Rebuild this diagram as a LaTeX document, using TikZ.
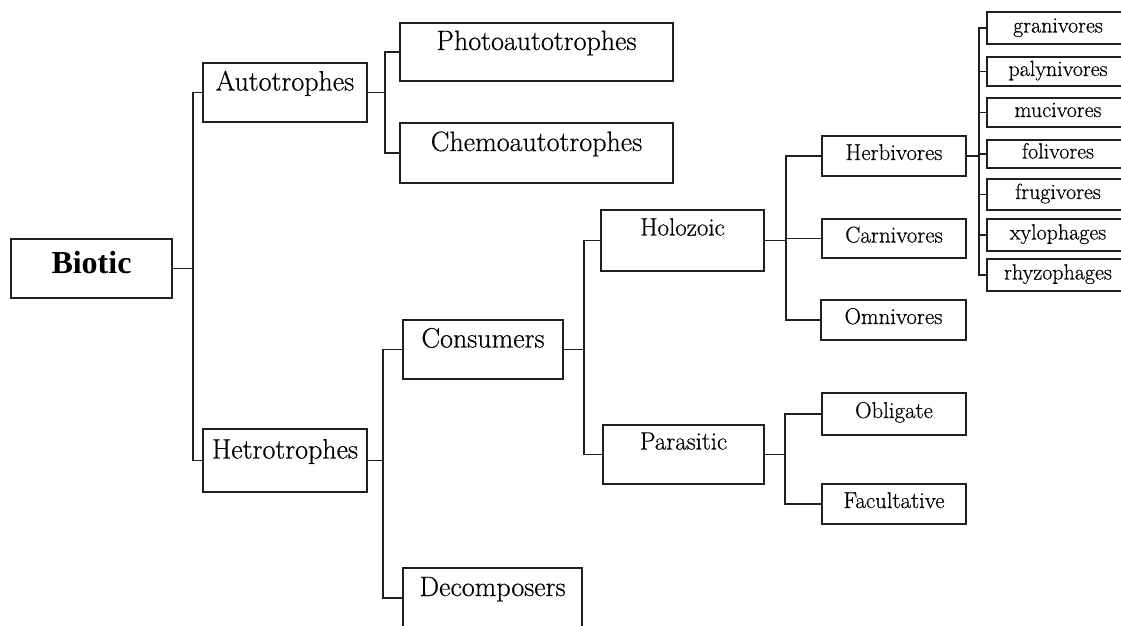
\documentclass[tikz,border=0pt]{standalone}
\usepackage{fontspec}
\newfontfamily\biofont{Liberation Serif}
\newfontfamily\lblfont[FakeBold=0.5]{Latin Modern Roman}
\tikzset{
  box/.style={draw=black!88, line width=1.7pt, rectangle, inner sep=0pt, align=center},
  big/.style={box, font=\lblfont\fontsize{28}{32}\selectfont, text height=0pt, text depth=4pt},
  mid/.style={box, font=\lblfont\fontsize{25}{29}\selectfont, text height=0pt, text depth=10pt},
  small/.style={box, font=\lblfont\fontsize{22.8}{26}\selectfont, text height=8pt, text depth=0pt},
  leaf/.style={box, font=\lblfont\fontsize{22}{25}\selectfont, text height=9pt, text depth=0pt,
               minimum width=142pt},
  root/.style={box, font=\biofont\bfseries\fontsize{32}{36}\selectfont, text height=9pt, text depth=0pt},
  link/.style={draw=black!88, line width=1.7pt}
}
\begin{document}
\begin{tikzpicture}[x=1pt, y=-1pt]
\useasboundingbox (0,0) rectangle (1121,626);
\fill[white] (0,0) rectangle (1121,626);
\clip (0,0) rectangle (1121,626);

% level 0
\node[root, minimum width=161pt, minimum height=59pt] (biotic) at (91.5,268.5) {Biotic};

% level 1
\node[big, minimum width=164pt, minimum height=59pt] (auto)  at (285,92.5)  {Autotrophes};
\node[big, minimum width=164pt, minimum height=63pt] (hetro) at (285,460.5) {Hetrotrophes};

% level 2
\node[big, minimum width=273pt, minimum height=58pt] (photo)  at (536.5,52)  {Photoautotrophes};
\node[big, minimum width=273pt, minimum height=60pt] (chemo)  at (536.5,153) {Chemoautotrophes};
\node[big, minimum width=160pt, minimum height=59pt] (cons)   at (483,349.5) {Consumers};
\node[big, minimum width=179pt, minimum height=60pt] (decomp) at (492.5,598) {Decomposers};

% level 3
\node[mid, minimum width=163pt, minimum height=61pt] (holo) at (682.5,240.5) {Holozoic};
\node[mid, minimum width=161pt, minimum height=59pt] (para) at (683.5,454.5) {Parasitic};

% level 4
\node[small, minimum width=144pt, minimum height=40pt] (herb) at (894,156)   {Herbivores};
\node[small, minimum width=144pt, minimum height=39pt] (carn) at (894,238.5) {Carnivores};
\node[small, minimum width=145pt, minimum height=40pt] (omni) at (893.5,320) {Omnivores};
\node[small, minimum width=144pt, minimum height=42pt] (obli) at (894,414)   {Obligate};
\node[small, minimum width=144pt, minimum height=40pt] (facu) at (894,504)   {Facultative};

% level 5
\node[leaf, minimum height=32pt] (gran) at (1058,28)    {granivores};
\node[leaf, minimum height=29pt] (paly) at (1058,71.5)  {palynivores};
\node[leaf, minimum height=29pt] (muci) at (1058,112.5) {mucivores};
\node[leaf, minimum height=28pt] (foli) at (1058,154)   {folivores};
\node[leaf, minimum height=31pt] (frug) at (1058,194.5) {frugivores};
\node[leaf, minimum height=32pt] (xylo) at (1058,235)   {xylophages};
\node[leaf, minimum height=32pt] (rhyz) at (1058,275)   {rhyzophages};

% junction columns
\coordinate (j0) at (193,0);
\coordinate (j1) at (385,0);
\coordinate (j2) at (383,0);
\coordinate (j3) at (584,0);
\coordinate (j4) at (786,0);
\coordinate (j5) at (785,0);
\coordinate (j6) at (979,0);

% bracket connectors
\draw[link] (biotic.east) -- (biotic.east -| j0);
\draw[link] (auto.west) -| (j0 |- hetro.west) -- (hetro.west);

\draw[link] (auto.east) -- (auto.east -| j1);
\draw[link] (photo.west) -| (j1 |- chemo.west) -- (chemo.west);

\draw[link] (hetro.east) -- (hetro.east -| j2);
\draw[link] (cons.west) -| (j2 |- decomp.west) -- (decomp.west);

\draw[link] (cons.east) -- (cons.east -| j3);
\draw[link] (holo.west) -| (j3 |- para.west) -- (para.west);

\draw[link] (holo.east) -- (holo.east -| j4);
\draw[link] (herb.west) -| (j4 |- omni.west) -- (omni.west);
\draw[link] (carn.west) -- (carn.west -| j4);

\draw[link] (para.east) -- (para.east -| j5);
\draw[link] (obli.west) -| (j5 |- facu.west) -- (facu.west);

\draw[link] (herb.east) -- (herb.east -| j6);
\draw[link] (gran.west) -| (j6 |- rhyz.west) -- (rhyz.west);
\foreach \n in {paly,muci,foli,frug,xylo}
  \draw[link] (\n.west) -- (\n.west -| j6);
\end{tikzpicture}
\end{document}
